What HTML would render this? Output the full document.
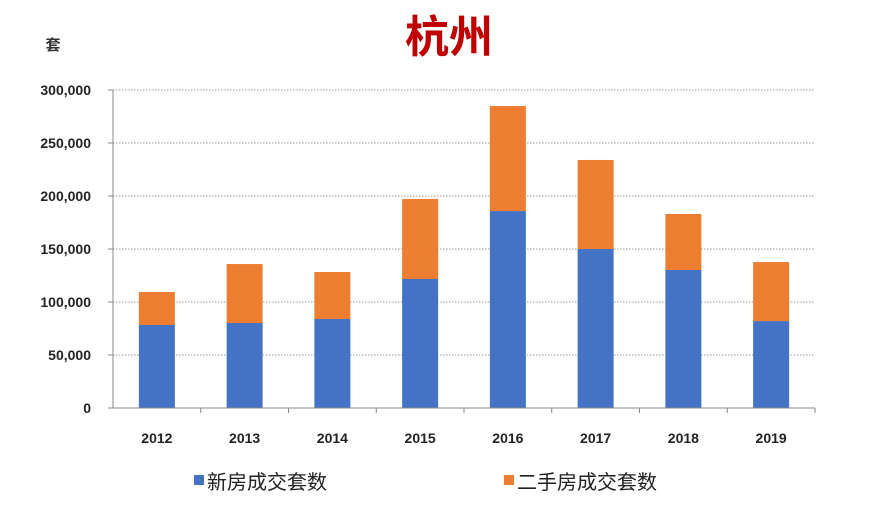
<!DOCTYPE html>
<html><head><meta charset="utf-8"><style>
body{margin:0;background:#fff;}
svg{display:block;font-family:"Liberation Sans","Noto Sans CJK SC",sans-serif;}
</style></head><body>
<svg id="c" width="896" height="516">
<text x="449" y="52" text-anchor="middle" font-size="44" fill="#c00000" font-family="'Noto Sans CJK SC',sans-serif" font-weight="bold">杭州</text>
<text x="53" y="50" text-anchor="middle" font-size="15" font-weight="bold" fill="#333">套</text>
<g id="grid"></g><g id="bars"></g><g id="axes"></g>
<g>
<rect x="194" y="475" width="10" height="10" fill="#4472c4"/>
<text x="207" y="489" font-size="20" fill="#222">新房成交套数</text>
<rect x="504" y="475" width="10" height="10" fill="#ed7d31"/>
<text x="517" y="489" font-size="20" fill="#222">二手房成交套数</text>
</g>
</svg>
<script>
const categories=["2012","2013","2014","2015","2016","2017","2018","2019"];
const newHomes=[78300,80200,84000,121700,185800,150000,130200,82000];
const resale=[31100,55600,44300,75500,99100,84000,52800,55700];
const yTicks=[0,50000,100000,150000,200000,250000,300000];
const yTickLabels=["0","50,000","100,000","150,000","200,000","250,000","300,000"];
const NS="http://www.w3.org/2000/svg";
const x0=113,x1=815,y0=408,y1=90,yMax=300000;
const band=(x1-x0)/categories.length, bw=36;
const y=v=>y0-(v/yMax)*(y0-y1);
const xc=i=>x0+band*(i+0.5);
function mk(t,a,p){const e=document.createElementNS(NS,t);for(const k in a)e.setAttribute(k,a[k]);p.appendChild(e);return e;}
const grid=document.getElementById('grid'),bars=document.getElementById('bars'),axes=document.getElementById('axes');
yTicks.forEach((t,i)=>{
 if(t>0){const l=mk('line',{x1:x0,x2:x1,y1:y(t),y2:y(t),stroke:'#999','stroke-dasharray':'1.5,1.5'},grid);
 
 }
 mk('line',{x1:x0-5,x2:x0,y1:y(t),y2:y(t),stroke:'#888'},axes);
 const tx=mk('text',{x:91,y:y(t)+5,'text-anchor':'end','font-size':14,'font-weight':'bold',fill:'#222'},axes);
 tx.textContent=yTickLabels[i];
 
 
});
categories.forEach((c,i)=>{
 const b1=mk('rect',{x:xc(i)-bw/2,y:y(newHomes[i]),width:bw,height:y0-y(newHomes[i]),fill:'#4472c4'},bars);
 
 
 const tot=newHomes[i]+resale[i];
 const b2=mk('rect',{x:xc(i)-bw/2,y:y(tot),width:bw,height:y(newHomes[i])-y(tot),fill:'#ed7d31'},bars);
 
 
 const tx=mk('text',{x:xc(i),y:443,'text-anchor':'middle','font-size':14,'font-weight':'bold',fill:'#222'},axes);
 tx.textContent=c;
 
 
 mk('line',{x1:x0+band*(i+1),x2:x0+band*(i+1),y1:y0,y2:y0+5,stroke:'#888'},axes);
});
mk('line',{x1:x0,x2:x0,y1:y1,y2:y0,stroke:'#888'},axes);
mk('line',{x1:x0,x2:x1,y1:y0,y2:y0,stroke:'#888'},axes);
</script>
</body></html>
